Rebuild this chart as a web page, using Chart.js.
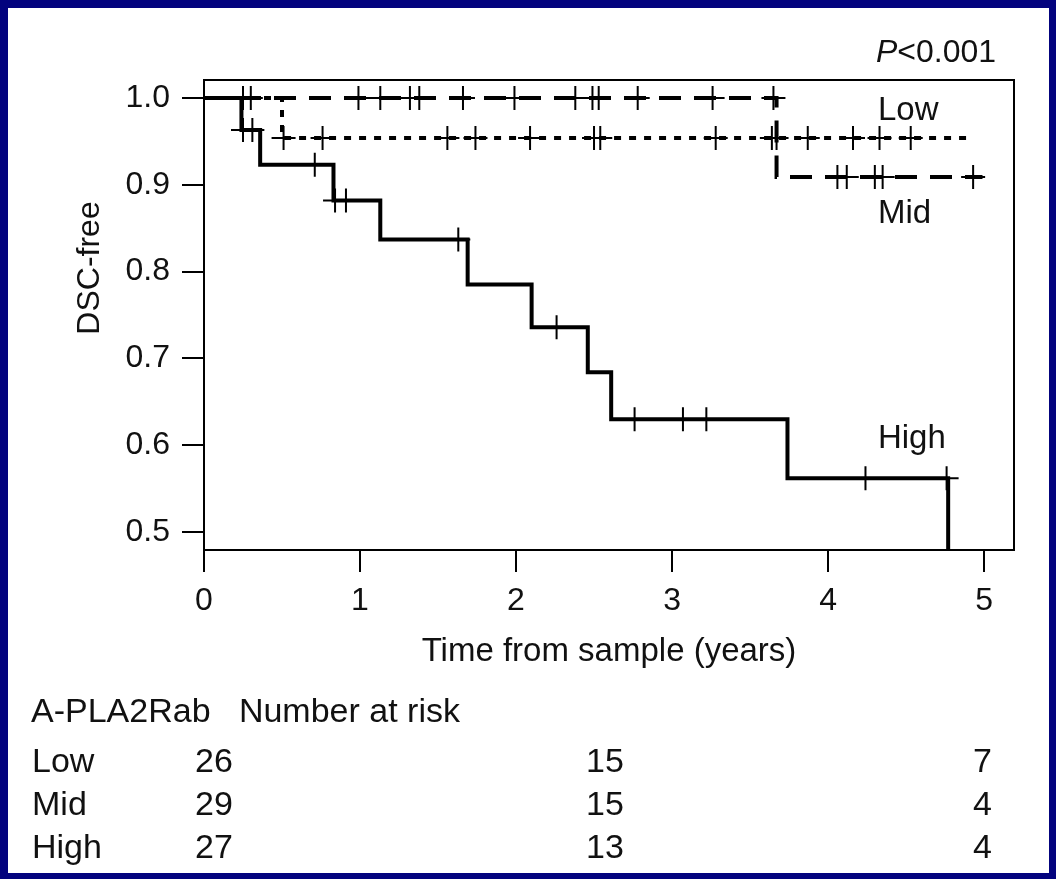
<!DOCTYPE html>
<html><head><meta charset="utf-8">
<script src="https://cdn.jsdelivr.net/npm/chart.js@4.4.1/dist/chart.umd.min.js"></script>
<style>
html,body{margin:0;padding:0;background:#03037e;width:1056px;height:879px;overflow:hidden;}
#panel{position:absolute;left:8px;top:8px;width:1041px;height:865px;background:#fff;}
#wrap{position:absolute;left:0;top:0;width:1056px;height:879px;}
</style></head><body>
<div id="panel"></div>
<div id="wrap"><canvas id="c" width="1056" height="879"></canvas></div>
<script>
// ---------- data ----------
const xTickValues = [0, 1, 2, 3, 4, 5];
const yTickValues = [0.5, 0.6, 0.7, 0.8, 0.9, 1.0];

// High (solid)
const highEventTimes = [0.24, 0.36, 0.83, 1.13, 1.69, 2.10, 2.46, 2.61, 3.74, 4.77];
const highEventSurv  = [0.963, 0.923, 0.882, 0.837, 0.785, 0.736, 0.684, 0.630, 0.562, 0.28];
const highCensorTimes = [0.25, 0.31, 0.71, 0.84, 0.91, 1.63, 2.26, 2.76, 3.07, 3.22, 4.24, 4.76];

// Low (dashed)
const lowEventTimes = [3.67];
const lowEventSurv  = [0.909];
const lowEndTime = 4.99;
const lowCensorTimes = [0.25, 0.30, 0.99, 1.13, 1.32, 1.38, 1.66, 1.99, 2.38, 2.49, 2.53, 2.78, 3.26, 3.65, 4.06, 4.12, 4.30, 4.35, 4.93];

// Mid (dotted)
const midEventTimes = [0.50];
const midEventSurv  = [0.954];
const midEndTime = 4.89;
const midCensorTimes = [0.51, 0.76, 1.56, 1.74, 2.09, 2.50, 2.54, 3.28, 3.64, 3.67, 3.87, 4.16, 4.33, 4.53];

// Number at risk table
const riskHeader = ['A-PLA2Rab', 'Number at risk'];
const riskGroups = ['Low', 'Mid', 'High'];
const riskLow  = [26, 15, 7];
const riskMid  = [29, 15, 4];
const riskHigh = [27, 13, 4];

const curveLabels = ['Low', 'Mid', 'High'];
const pText = '<0.001';

// ---------- helpers ----------
function kmPoints(times, surv, end) {
  const pts = [{x: 0, y: 1}];
  times.forEach((t, i) => pts.push({x: t, y: surv[i]}));
  if (end != null) pts.push({x: end, y: surv[surv.length - 1]});
  return pts;
}
function survAt(times, surv, t) {
  let s = 1;
  times.forEach((tt, i) => { if (t >= tt) s = surv[i]; });
  return s;
}
function censorPoints(times, surv, cens) {
  return cens.map(t => ({x: t, y: survAt(times, surv, t)}));
}

const FONT = '"Liberation Sans", Arial, Helvetica, sans-serif';
const INK = '#111';

const lineBase = {showLine: true, stepped: 'before', pointRadius: 0, borderColor: '#000',
  borderWidth: 4, borderCapStyle: 'butt', borderJoinStyle: 'miter', fill: false};
const censBase = {showLine: false, pointStyle: 'cross', pointRadius: 12, pointHoverRadius: 12,
  pointBorderWidth: 2, borderColor: '#000', backgroundColor: '#000'};

const decor = {
  id: 'decor',
  afterDraw(chart) {
    const {ctx, chartArea: a, scales} = chart;
    const xs = scales.x, ys = scales.y;
    ctx.save();
    // top & right frame
    ctx.strokeStyle = '#000'; ctx.lineWidth = 2;
    ctx.beginPath();
    ctx.moveTo(a.left, a.top); ctx.lineTo(a.right, a.top); ctx.lineTo(a.right, a.bottom);
    ctx.stroke();

    ctx.fillStyle = INK;
    ctx.textBaseline = 'middle';
    ctx.textAlign = 'left';
    // curve labels
    ctx.font = '33px ' + FONT;
    const lx = xs.getPixelForValue(4.32);
    ctx.fillText(curveLabels[0], lx, ys.getPixelForValue(0.985));
    ctx.fillText(curveLabels[1], lx, ys.getPixelForValue(0.867));
    ctx.fillText(curveLabels[2], lx, ys.getPixelForValue(0.607));

    // P value
    const py = 53;
    ctx.font = 'italic 32px ' + FONT;
    ctx.fillText('P', 876, py);
    const pw = ctx.measureText('P').width;
    ctx.font = '32px ' + FONT;
    ctx.fillText(pText, 876 + pw, py);

    // y title
    ctx.save();
    ctx.font = '32px ' + FONT;
    ctx.translate(90, 268);
    ctx.rotate(-Math.PI / 2);
    ctx.textAlign = 'center';
    ctx.fillText('DSC-free', 0, 0);
    ctx.restore();

    // risk table
    ctx.font = '34px ' + FONT;
    ctx.textBaseline = 'alphabetic';
    ctx.textAlign = 'left';
    ctx.fillText(riskHeader[0], 31, 722);
    ctx.fillText(riskHeader[1], 31 + ctx.measureText(riskHeader[0] + '   ').width, 722);
    const rows = [riskLow, riskMid, riskHigh];
    const rowY = [772, 815, 858];
    rows.forEach((r, i) => {
      ctx.textAlign = 'left';
      ctx.fillText(riskGroups[i], 32, rowY[i]);
      ctx.fillText(String(r[0]), 195, rowY[i]);
      ctx.fillText(String(r[1]), 586, rowY[i]);
      ctx.textAlign = 'right';
      ctx.fillText(String(r[2]), 992, rowY[i]);
    });
    ctx.restore();
  }
};

new Chart(document.getElementById('c'), {
  type: 'scatter',
  data: {
    datasets: [
      Object.assign({label: 'High', data: kmPoints(highEventTimes, highEventSurv, null)}, lineBase),
      Object.assign({label: 'Low', data: kmPoints(lowEventTimes, lowEventSurv, lowEndTime), borderDash: [22, 13]}, lineBase),
      Object.assign({label: 'Mid', data: kmPoints(midEventTimes, midEventSurv, midEndTime), borderDash: [7, 8]}, lineBase),
      Object.assign({label: 'High censored', data: censorPoints(highEventTimes, highEventSurv, highCensorTimes)}, censBase),
      Object.assign({label: 'Low censored', data: censorPoints(lowEventTimes, lowEventSurv, lowCensorTimes)}, censBase),
      Object.assign({label: 'Mid censored', data: censorPoints(midEventTimes, midEventSurv, midCensorTimes)}, censBase)
    ]
  },
  options: {
    responsive: false,
    animation: false,
    events: [],
    layout: {padding: {left: 0, top: 80, right: 42, bottom: 879 - 550 - 122}},
    plugins: {legend: {display: false}, tooltip: {enabled: false}},
    scales: {
      x: {
        type: 'linear', min: 0, max: 5.192,
        afterBuildTicks: s => { s.ticks = xTickValues.map(v => ({value: v})); },
        afterFit: s => { s.height = 122; },
        ticks: {color: INK, font: {family: FONT, size: 32}, padding: 10, callback: v => String(v)},
        grid: {drawOnChartArea: false, drawTicks: true, tickLength: 22, color: '#000', lineWidth: 2},
        border: {display: true, color: '#000', width: 2},
        title: {display: true, text: 'Time from sample (years)', color: INK,
                font: {family: FONT, size: 33}, padding: {top: 0, bottom: 0}}
      },
      y: {
        type: 'linear', min: 0.4793, max: 1.0207,
        afterBuildTicks: s => { s.ticks = yTickValues.map(v => ({value: v})); },
        afterFit: s => { s.width = 204; },
        ticks: {color: INK, font: {family: FONT, size: 32}, padding: 12, callback: v => v.toFixed(1)},
        grid: {drawOnChartArea: false, drawTicks: true, tickLength: 22, color: '#000', lineWidth: 2},
        border: {display: true, color: '#000', width: 2},
        title: {display: false}
      }
    }
  },
  plugins: [decor]
});
</script>
</body></html>
